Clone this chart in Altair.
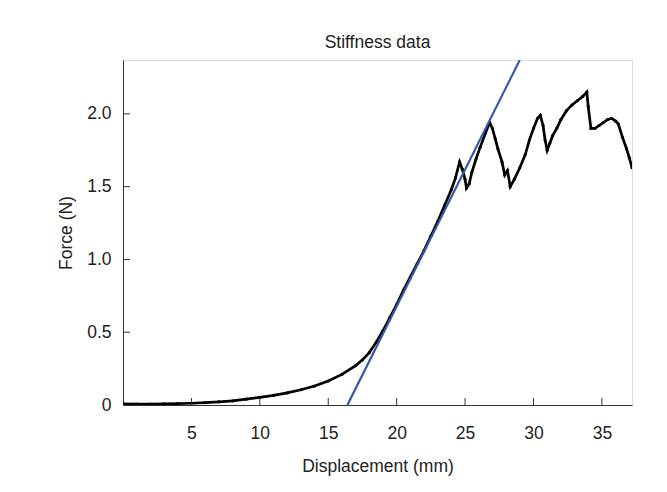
import altair as alt
import pandas as pd

disp = [0, 1, 2, 3, 4, 5, 6, 7, 8, 9, 10, 11, 12, 13, 14, 15, 16, 17, 17.5, 18,
        18.5, 19, 19.5, 20, 20.5, 21, 21.5, 22, 22.5, 23, 23.5, 24, 24.3, 24.6,
        24.8, 25.0, 25.1, 25.3, 25.5, 25.8, 26.1, 26.5, 26.8, 27.0, 27.2, 27.4,
        27.7, 27.9, 28.1, 28.3, 28.6, 29.0, 29.4, 29.7, 30.0, 30.3, 30.5, 30.7,
        30.85, 31.0, 31.2, 31.4, 31.7, 32.0, 32.4, 32.8, 33.2, 33.6, 33.9, 34.0,
        34.2, 34.5, 34.8, 35.1, 35.4, 35.7, 36.0, 36.2, 36.5, 36.8, 37.0, 37.2]
force = [0.008, 0.006, 0.007, 0.008, 0.010, 0.012, 0.016, 0.022, 0.028, 0.040,
         0.052, 0.066, 0.083, 0.105, 0.130, 0.165, 0.21, 0.27, 0.31, 0.36,
         0.43, 0.51, 0.60, 0.69, 0.79, 0.88, 0.97, 1.06, 1.16, 1.26, 1.37, 1.48,
         1.56, 1.67, 1.62, 1.55, 1.49, 1.52, 1.60, 1.69, 1.77, 1.87, 1.94, 1.90,
         1.83, 1.76, 1.67, 1.58, 1.61, 1.50, 1.55, 1.63, 1.72, 1.82, 1.90, 1.97,
         1.99, 1.92, 1.82, 1.75, 1.80, 1.85, 1.90, 1.96, 2.02, 2.06, 2.09, 2.12,
         2.15, 2.05, 1.90, 1.90, 1.92, 1.94, 1.96, 1.97, 1.95, 1.93, 1.84, 1.76,
         1.70, 1.63]

# Linear stiffness fit line
fit_disp = [16.4, 29.0]
fit_force = [0.0, 2.37]

x_ticks = [5, 10, 15, 20, 25, 30, 35]
y_ticks = [0, 0.5, 1.0, 1.5, 2.0]

FONT = "Liberation Sans"
TXT = "#222222"
FS = 17.5
W, H = 509, 345

curve_df = pd.DataFrame({"d": disp, "f": force})
fit_df = pd.DataFrame({"d": fit_disp, "f": fit_force})
xt_df = pd.DataFrame({"t": x_ticks})
yt_df = pd.DataFrame({"t": [v for v in y_ticks if v > 0]})

xscale = alt.Scale(domain=[0, 37.2], nice=False, zero=False)
yscale = alt.Scale(domain=[0, 2.37], nice=False)

xaxis = alt.Axis(values=x_ticks, title="Displacement (mm)", grid=False,
                 tickSize=0, labelPadding=19, titlePadding=16,
                 labelFont=FONT, titleFont=FONT, labelFontSize=FS,
                 titleFontSize=FS, titleFontWeight="normal",
                 labelColor=TXT, titleColor=TXT, domainColor="#333333")
yaxis = alt.Axis(values=y_ticks, title="Force (N)", grid=False,
                 tickSize=0, labelPadding=12, titlePadding=11,
                 labelExpr="datum.value == 0 ? '0' : format(datum.value, '.1f')",
                 labelFont=FONT, titleFont=FONT, labelFontSize=FS,
                 titleFontSize=FS, titleFontWeight="normal",
                 labelColor=TXT, titleColor=TXT, domainColor="#333333")

curve = alt.Chart(curve_df).mark_line(color="black", strokeWidth=2.7,
                                      clip=True).encode(
    x=alt.X("d:Q", scale=xscale, axis=xaxis),
    y=alt.Y("f:Q", scale=yscale, axis=yaxis),
)
dots = alt.Chart(curve_df).mark_circle(color="black", size=10, opacity=1,
                                       clip=True).encode(
    x=alt.X("d:Q", scale=xscale),
    y=alt.Y("f:Q", scale=yscale),
)
fit = alt.Chart(fit_df).mark_line(color="#3758a8", strokeWidth=2.2,
                                  clip=True).encode(
    x=alt.X("d:Q", scale=xscale),
    y=alt.Y("f:Q", scale=yscale),
)
xt = alt.Chart(xt_df).mark_rule(color="#333333", strokeWidth=1).encode(
    x=alt.X("t:Q", scale=xscale),
    y=alt.value(H),
    y2=alt.value(H - 7),
)
yt = alt.Chart(yt_df).mark_rule(color="#333333", strokeWidth=1).encode(
    y=alt.Y("t:Q", scale=yscale),
    x=alt.value(0),
    x2=alt.value(7),
)

chart = alt.layer(curve, dots, fit, xt, yt).properties(
    width=W, height=H,
    autosize=alt.AutoSizeParams(type="none"),
    padding={"left": 115, "top": 52, "right": 25, "bottom": 80},
    title=alt.TitleParams("Stiffness data", font=FONT, fontSize=FS,
                          fontWeight="normal", color=TXT, offset=9),
).configure_view(stroke=None).configure(background="white")

chart.save("out.html", embed_options={"renderer": "svg", "actions": False})
